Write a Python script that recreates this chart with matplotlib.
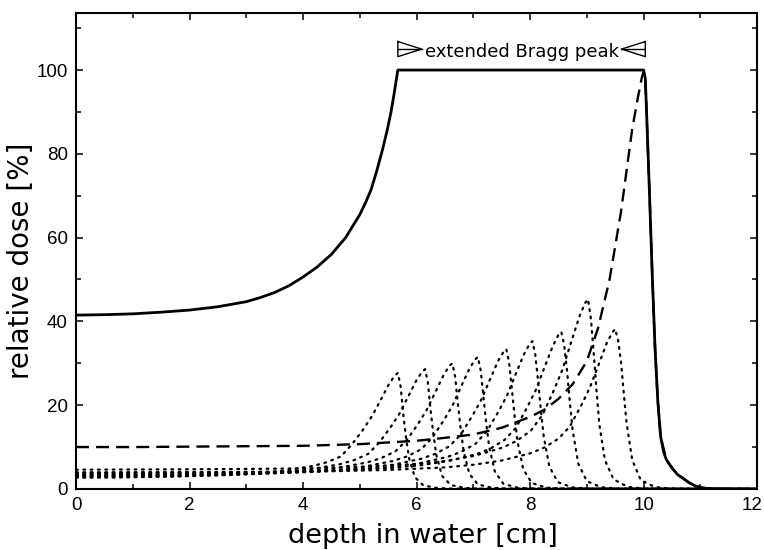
import matplotlib
matplotlib.use('Agg')
import matplotlib.pyplot as plt
import matplotlib.transforms as mtransforms
from matplotlib.ticker import MultipleLocator

# spread-out Bragg peak (solid)
sobp_x = [0, 0.5, 1, 1.5, 2, 2.5, 3, 3.25, 3.5, 3.75, 4, 4.25, 4.5, 4.75, 5.0, 5.1,
          5.2, 5.3, 5.4, 5.48, 5.55, 5.6, 5.67, 6, 7, 8, 9, 10, 10.03, 10.06, 10.1,
          10.15, 10.2, 10.25, 10.3, 10.35, 10.4, 10.5, 10.6, 10.7, 10.8, 10.9, 11.0,
          11.1, 11.3, 12]
sobp_y = [41.5, 41.6, 41.8, 42.2, 42.7, 43.5, 44.7, 45.7, 46.9, 48.5, 50.6, 53.0, 56.0,
          60.0, 65.5, 68.3, 71.5, 76.0, 81.0, 85.5, 90.0, 94.0, 100, 100, 100, 100,
          100, 100, 98, 87, 72, 52, 34, 21, 12.5, 9, 7, 5.0, 3.4, 2.5, 1.5, 0.8, 0.35,
          0.15, 0.03, 0]

# deepest pristine Bragg peak (dashed)
pristine_x = [0, 1, 2, 3, 4, 5, 5.5, 6, 6.5, 7, 7.5, 8, 8.25, 8.5, 8.75, 9.0, 9.2, 9.4,
              9.6, 9.8, 9.9, 9.97, 10.0, 10.03, 10.06, 10.1, 10.15, 10.2, 10.25, 10.3,
              10.4, 10.5, 10.6, 10.7, 10.8, 10.9, 11.0, 11.1, 11.3, 12]
pristine_y = [10.0, 10.0, 10.1, 10.2, 10.3, 10.7, 11.1, 11.5, 12.2, 13.0, 14.6, 17.2,
              18.9, 21.5, 25.0, 30.5, 38.5, 50.0, 66.0, 86.0, 93.5, 98.3, 99.5, 98, 87,
              72, 52, 34, 21, 12.5, 7, 5.0, 3.4, 2.5, 1.5, 0.8, 0.35, 0.15, 0.03, 0]

# weighted shallower peaks (dotted)
peak1_x = [0, 0.67, 1.67, 2.67, 3.17, 3.67, 4.17, 4.42, 4.67, 4.87, 5.07, 5.22, 5.37,
           5.52, 5.62, 5.67, 5.72, 5.77, 5.82, 5.87, 5.97, 6.12, 6.37, 6.67, 12]
peak1_y = [2.68, 2.73, 2.93, 3.32, 3.72, 4.39, 5.48, 6.38, 7.78, 10.8, 14.4, 17.5, 21.3,
           25.2, 27.1, 27.7, 24.4, 17.2, 11.6, 7.2, 2.8, 0.83, 0.22, 0.06, 0]

peak2_x = [0, 1.15, 2.15, 3.15, 3.65, 4.15, 4.65, 4.9, 5.15, 5.35, 5.55, 5.7, 5.85,
           6.0, 6.1, 6.15, 6.2, 6.25, 6.3, 6.35, 6.45, 6.6, 6.85, 7.15, 12]
peak2_y = [2.85, 2.94, 3.16, 3.58, 4.02, 4.73, 5.91, 6.88, 8.39, 11.2, 14.9, 18.0, 22.0,
           26.0, 28.0, 28.6, 25.3, 18.4, 12.7, 8.0, 3.1, 0.94, 0.24, 0.06, 0]

peak3_x = [0, 0.63, 1.63, 2.63, 3.63, 4.13, 4.63, 5.13, 5.38, 5.63, 5.83, 6.03, 6.18,
           6.33, 6.48, 6.58, 6.63, 6.68, 6.73, 6.78, 6.83, 6.93, 7.08, 7.33, 7.63, 12]
peak3_y = [3.04, 3.07, 3.16, 3.39, 3.84, 4.31, 5.07, 6.34, 7.38, 9.0, 11.7, 15.6, 18.9,
           23.1, 27.3, 29.4, 30.0, 26.8, 20.0, 14.0, 8.9, 3.6, 1.08, 0.27, 0.06, 0]

peak4_x = [0, 1.08, 2.08, 3.08, 4.08, 4.58, 5.08, 5.58, 5.83, 6.08, 6.28, 6.48, 6.63,
           6.78, 6.93, 7.03, 7.08, 7.13, 7.18, 7.23, 7.28, 7.38, 7.53, 7.78, 8.08, 12]
peak4_y = [3.16, 3.22, 3.32, 3.57, 4.03, 4.53, 5.33, 6.67, 7.75, 9.46, 12.3, 16.4, 19.8,
           24.3, 28.7, 30.9, 31.5, 28.3, 21.7, 15.4, 10.0, 4.1, 1.23, 0.30, 0.07, 0]

peak5_x = [0, 0.58, 1.58, 2.58, 3.58, 4.58, 5.08, 5.58, 6.08, 6.33, 6.58, 6.78, 6.98,
           7.13, 7.28, 7.43, 7.53, 7.58, 7.63, 7.68, 7.73, 7.78, 7.88, 8.03, 8.28, 8.58, 12]
peak5_y = [3.40, 3.42, 3.48, 3.58, 3.85, 4.36, 4.89, 5.76, 7.20, 8.38, 10.2, 13.0, 17.4,
           21.0, 25.7, 30.4, 32.7, 33.4, 30.2, 23.7, 17.0, 11.2, 4.7, 1.42, 0.33, 0.07, 0]

peak6_x = [0, 1.04, 2.04, 3.04, 4.04, 5.04, 5.54, 6.04, 6.54, 6.79, 7.04, 7.24, 7.44,
           7.59, 7.74, 7.89, 7.99, 8.04, 8.09, 8.14, 8.19, 8.24, 8.34, 8.49, 8.74, 9.04, 12]
peak6_y = [3.59, 3.62, 3.69, 3.80, 4.08, 4.62, 5.18, 6.11, 7.63, 8.88, 10.8, 13.8, 18.4,
           22.2, 27.2, 32.1, 34.6, 35.3, 32.2, 25.9, 18.8, 12.5, 5.3, 1.62, 0.37, 0.08, 0]

peak7_x = [0, 0.55, 1.55, 2.55, 3.55, 4.55, 5.55, 6.05, 6.55, 7.05, 7.3, 7.55, 7.75,
           7.95, 8.1, 8.25, 8.4, 8.5, 8.55, 8.6, 8.65, 8.7, 8.75, 8.85, 9.0, 9.25, 9.55, 12]
peak7_y = [3.87, 3.89, 3.93, 4.00, 4.12, 4.43, 5.01, 5.62, 6.62, 8.28, 9.63, 11.7, 14.6,
           19.5, 23.6, 28.9, 34.1, 36.8, 37.5, 34.4, 28.3, 20.8, 14.0, 6.0, 1.84, 0.41,
           0.08, 0]

peak8_x = [0, 1.02, 2.02, 3.02, 4.02, 5.02, 6.02, 6.52, 7.02, 7.52, 7.77, 8.02, 8.22,
           8.42, 8.57, 8.72, 8.87, 8.97, 9.02, 9.07, 9.12, 9.17, 9.22, 9.32, 9.47, 9.72,
           10.02, 12]
peak8_y = [4.6, 4.65, 4.69, 4.78, 4.92, 5.29, 5.98, 6.72, 7.91, 9.89, 11.5, 14.0, 17.7,
           23.6, 28.5, 34.9, 41.2, 44.4, 45.3, 40.8, 32.6, 23.6, 15.4, 6.8, 2.3, 0.5,
           0.09, 0]

peak9_x = [0, 0.5, 1.5, 2.5, 3.5, 4.5, 5.5, 6.5, 7.0, 7.5, 8.0, 8.25, 8.5, 8.7, 8.9,
           9.05, 9.2, 9.35, 9.45, 9.5, 9.55, 9.6, 9.65, 9.7, 9.8, 9.95, 10.2, 10.5, 12]
peak9_y = [3.95, 3.95, 3.99, 4.03, 4.11, 4.23, 4.54, 5.14, 5.77, 6.79, 8.49, 9.88, 12.0,
           14.9, 19.9, 24.1, 29.4, 34.8, 37.4, 38.2, 35.5, 30.6, 22.9, 15.7, 6.9, 2.1,
           0.46, 0.08, 0]

dotted_x = [peak1_x, peak2_x, peak3_x, peak4_x, peak5_x, peak6_x, peak7_x, peak8_x, peak9_x]
dotted_y = [peak1_y, peak2_y, peak3_y, peak4_y, peak5_y, peak6_y, peak7_y, peak8_y, peak9_y]

# extent of the plateau for the annotation
sobp_start = 5.67
sobp_end = 10.03

plt.rcParams['font.family'] = 'DejaVu Sans'

fig = plt.figure(figsize=(7.64, 5.5), dpi=100)
ax = fig.add_axes([0.0995, 0.111, 0.8915, 0.866])

for xs, ys in zip(dotted_x, dotted_y):
    ax.plot(xs, ys, color='black', lw=1.6, linestyle=(0, (0.8, 2.5)),
            dash_capstyle='round', zorder=2)
ax.plot(pristine_x, pristine_y, color='black', lw=1.7, linestyle=(0, (5.5, 3.0)), zorder=3)
ax.plot(sobp_x, sobp_y, color='black', lw=2.0, zorder=4)

# open arrow heads marking the plateau
tri_w = 0.42
tri_h = 3.6
tri_y = 105.0
ax.plot([sobp_start, sobp_start + tri_w, sobp_start, sobp_start],
        [tri_y + tri_h / 2, tri_y, tri_y - tri_h / 2, tri_y + tri_h / 2],
        color='black', lw=1.0)
ax.plot([sobp_start, sobp_start + tri_w], [tri_y, tri_y], color='black', lw=1.0)
ax.plot([sobp_end, sobp_end - tri_w, sobp_end, sobp_end],
        [tri_y + tri_h / 2, tri_y, tri_y - tri_h / 2, tri_y + tri_h / 2],
        color='black', lw=1.0)
ax.plot([sobp_end, sobp_end - tri_w], [tri_y, tri_y], color='black', lw=1.0)
ax.text((sobp_start + sobp_end) / 2, 103.2, 'extended Bragg peak',
        ha='center', va='baseline', fontsize=13)

ax.set_xlim(0, 12)
ax.set_ylim(0, 113.7)
ax.xaxis.set_major_locator(MultipleLocator(2))
ax.xaxis.set_minor_locator(MultipleLocator(1))
ax.yaxis.set_major_locator(MultipleLocator(20))
ax.yaxis.set_minor_locator(MultipleLocator(10))
ax.tick_params(which='both', direction='in', top=True, right=True, width=1.1)
ax.tick_params(which='major', length=5.2, labelsize=13.5, pad=6)
ax.tick_params(which='minor', length=3.8)
for s in ax.spines.values():
    s.set_linewidth(1.5)

ax.set_xlabel('depth in water [cm]', fontsize=19.5)
ax.set_ylabel('relative dose [%]', fontsize=20)
ax.xaxis.set_label_coords(0.509, -0.072)
ax.yaxis.set_label_coords(-0.060, 0.479)

fig.canvas.draw()
for tick in ax.xaxis.get_major_ticks() + ax.yaxis.get_major_ticks():
    tick.label1.set_fontfamily('Liberation Sans')
# keep the "12" label inside the canvas
for tick in ax.xaxis.get_major_ticks():
    if abs(tick.get_loc() - 12) < 1e-6:
        tick.label1.set_transform(tick.label1.get_transform() +
                                  mtransforms.ScaledTranslation(-5 / 100, 0,
                                                                fig.dpi_scale_trans))

fig.savefig('out.png', dpi=100)
